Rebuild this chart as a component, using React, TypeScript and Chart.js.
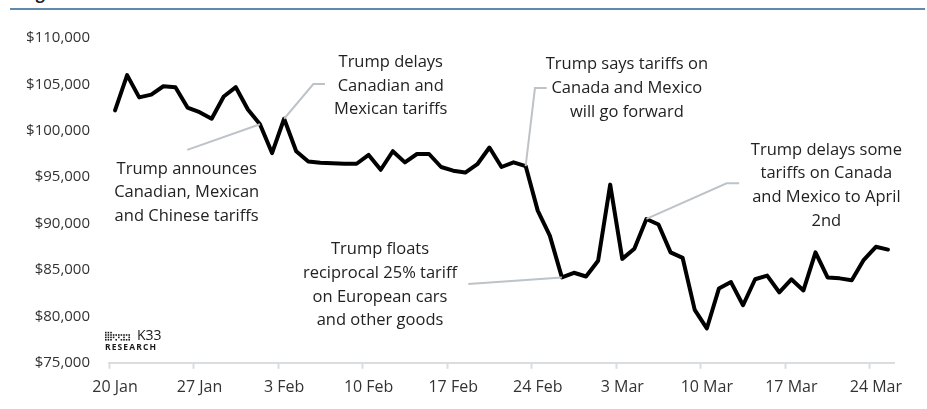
import React, { useEffect, useRef } from "react";
import { Chart, registerables } from "chart.js";

Chart.register(...registerables);

// ---- data ----
const dates = [
  "20 Jan", "21 Jan", "22 Jan", "23 Jan", "24 Jan", "25 Jan", "26 Jan", "27 Jan", "28 Jan", "29 Jan", "30 Jan", "31 Jan",
  "1 Feb", "2 Feb", "3 Feb", "4 Feb", "5 Feb", "6 Feb", "7 Feb", "8 Feb", "9 Feb", "10 Feb", "11 Feb", "12 Feb", "13 Feb",
  "14 Feb", "15 Feb", "16 Feb", "17 Feb", "18 Feb", "19 Feb", "20 Feb", "21 Feb", "22 Feb", "23 Feb", "24 Feb", "25 Feb",
  "26 Feb", "27 Feb", "28 Feb",
  "1 Mar", "2 Mar", "3 Mar", "4 Mar", "5 Mar", "6 Mar", "7 Mar", "8 Mar", "9 Mar", "10 Mar", "11 Mar", "12 Mar", "13 Mar",
  "14 Mar", "15 Mar", "16 Mar", "17 Mar", "18 Mar", "19 Mar", "20 Mar", "21 Mar", "22 Mar", "23 Mar", "24 Mar", "25 Mar",
];

const btcPrice = [
  102200, 106000, 103600, 103900, 104800, 104700, 102500, 102000, 101300, 103700,
  104700, 102300, 100700, 97600, 101300, 97800, 96700, 96550, 96500, 96450,
  96450, 97400, 95800, 97800, 96600, 97500, 97500, 96100, 95700, 95500,
  96400, 98200, 96100, 96600, 96200, 91400, 88700, 84200, 84700, 84300,
  86000, 94200, 86200, 87300, 90500, 89900, 86900, 86300, 80700, 78700,
  83000, 83700, 81200, 84000, 84400, 82600, 84000, 82800, 86900, 84200,
  84100, 83900, 86100, 87500, 87200,
];

const xTickLabels = ["20 Jan", "27 Jan", "3 Feb", "10 Feb", "17 Feb", "24 Feb", "3 Mar", "10 Mar", "17 Mar", "24 Mar"];

const yMin = 75000;
const yMax = 110000;
const yStep = 5000;

const annotationTexts = [
  ["Trump announces", "Canadian, Mexican", "and Chinese tariffs"],
  ["Trump delays", "Canadian and", "Mexican tariffs"],
  ["Trump says tariffs on", "Canada and Mexico", "will go forward"],
  ["Trump floats", "reciprocal 25% tariff", "on European cars", "and other goods"],
  ["Trump delays some", "tariffs on Canada", "and Mexico to April", "2nd"],
];
// index of the data point each annotation refers to
const annotationPoints = [12, 14, 34, 37, 44];

// placement (in data coordinates: category index, value)
const annotationPlacement = [
  { textAt: [5.93, 95900], leader: [[5.98, 97950]] },
  { textAt: [22.83, 107375], leader: [[16.42, 105040], [17.38, 105040]] },
  { textAt: [42.38, 107130], leader: [[34.77, 104610], [35.74, 104610]] },
  { textAt: [21.94, 87220], leader: [[29.25, 83480]] },
  { textAt: [58.9, 97950], leader: [[50.64, 94350], [51.68, 94350]] },
];

const FONT = "'Open Sans', 'DejaVu Sans', sans-serif";

const annotationPlugin = {
  id: "tariffAnnotations",
  afterDatasetsDraw(chart: any) {
    const ctx = chart.ctx;
    const xs = chart.scales.x;
    const ys = chart.scales.y;
    ctx.save();
    annotationPlacement.forEach((a, i) => {
      const pIdx = annotationPoints[i];
      ctx.beginPath();
      ctx.strokeStyle = "#BEC3C8";
      ctx.lineWidth = 2;
      ctx.moveTo(xs.getPixelForValue(pIdx), ys.getPixelForValue(btcPrice[pIdx]));
      a.leader.forEach(([lx, ly]) => ctx.lineTo(xs.getPixelForValue(lx), ys.getPixelForValue(ly)));
      ctx.stroke();

      ctx.fillStyle = "#222222";
      ctx.font = `16.5px ${FONT}`;
      ctx.textAlign = "center";
      ctx.textBaseline = "middle";
      const tx = xs.getPixelForValue(a.textAt[0]);
      const ty = ys.getPixelForValue(a.textAt[1]);
      annotationTexts[i].forEach((line, k) => ctx.fillText(line, tx, ty + k * 23.7));
    });
    ctx.restore();
  },
  afterDraw(chart: any) {
    // K33 Research logo
    const ctx = chart.ctx;
    const { left, bottom } = chart.chartArea;
    ctx.save();
    ctx.fillStyle = "#1a1a1a";
    const ox = left - 4;
    const oy = bottom - 31;
    const cols = [
      [1, 1, 1, 1], [1, 1, 1, 1], [1, 1, 1, 1], [0, 1, 1, 0], [0, 1, 0, 1],
      [0, 1, 1, 0], [0, 1, 0, 1], [0, 1, 1, 1], [0, 1, 0, 1], [0, 1, 1, 1],
    ];
    cols.forEach((c, ci) => c.forEach((on, ri) => {
      if (on) ctx.fillRect(ox + ci * 2.6, oy + ri * 2.4, 1.6, 1.6);
    }));
    ctx.font = `14px ${FONT}`;
    ctx.textAlign = "left";
    ctx.textBaseline = "middle";
    ctx.fillText("K33", left + 28, oy + 4.5);
    ctx.font = `bold 8.5px ${FONT}`;
    (ctx as any).letterSpacing = "1.1px";
    ctx.fillText("RESEARCH", ox, oy + 16);
    ctx.restore();
  },
};

export default function App() {
  const canvasRef = useRef<HTMLCanvasElement | null>(null);

  useEffect(() => {
    if (!canvasRef.current) return;
    const chart = new Chart(canvasRef.current, {
      type: "line",
      data: {
        labels: dates,
        datasets: [
          {
            label: "Bitcoin",
            data: btcPrice,
            borderColor: "#000000",
            borderWidth: 4,
            pointRadius: 0,
            tension: 0,
            borderJoinStyle: "round",
            borderCapStyle: "round",
          },
        ],
      },
      options: {
        responsive: false,
        animation: false,
        devicePixelRatio: 1,
        layout: { padding: { top: 38, right: 33, bottom: 3, left: 0 } },
        plugins: {
          legend: { display: false },
          tooltip: { enabled: false },
          title: { display: false },
        },
        scales: {
          x: {
            type: "category",
            offset: true,
            border: { display: true, color: "#DADDE0", width: 2 },
            grid: {
              display: true,
              drawOnChartArea: false,
              drawTicks: true,
              tickLength: 6,
              offset: true,
              tickWidth: 2,
              tickColor: (c: any) =>
                typeof c.index === "number" && xTickLabels.includes(dates[c.index]) ? "#DADDE0" : "rgba(0,0,0,0)",
            },
            ticks: {
              autoSkip: false,
              maxRotation: 0,
              minRotation: 0,
              padding: 9,
              color: "#333333",
              font: { family: FONT, size: 16 },
              callback: (_v: any, i: number) => (xTickLabels.includes(dates[i]) ? dates[i] : ""),
            },
          },
          y: {
            min: yMin,
            max: yMax,
            border: { display: false },
            grid: { display: false, drawTicks: false, tickLength: 0 },
            afterFit: (s: any) => {
              s.width = 109;
            },
            ticks: {
              stepSize: yStep,
              padding: 19,
              color: "#333333",
              font: { family: FONT, size: 15 },
              callback: (v: any) => "$" + Number(v).toLocaleString("en-US"),
            },
          },
        },
      },
      plugins: [annotationPlugin],
    });
    return () => chart.destroy();
  }, []);

  return (
    <div style={{ position: "relative", width: 927, height: 409, overflow: "hidden", background: "#fff" }}>
      <style>{`body{margin:0}`}</style>
      <div
        style={{
          position: "absolute",
          left: 22,
          top: -15,
          font: `bold 16px ${FONT}`,
          lineHeight: "16px",
          color: "#222",
          whiteSpace: "nowrap",
        }}
      >
        Figure 1: Bitcoin and tariff news
      </div>
      <div style={{ position: "absolute", left: 10, top: 8, width: 915, height: 2, background: "#5F8AB0" }} />
      <canvas ref={canvasRef} width={927} height={409} style={{ position: "absolute", left: 0, top: 0 }} />
    </div>
  );
}
